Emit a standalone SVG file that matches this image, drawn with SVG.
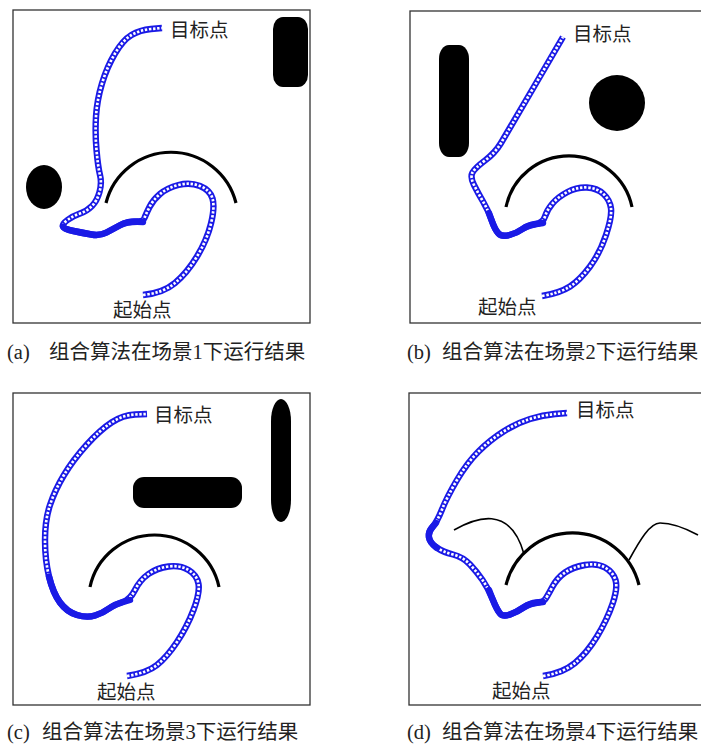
<svg xmlns="http://www.w3.org/2000/svg" width="701" height="745" viewBox="0 0 701 745">
<style>
.frame{fill:#fff;stroke:#333;stroke-width:1.3}
.obs{fill:#000}
.arc{fill:none;stroke:#000;stroke-width:3.2;stroke-linecap:butt}
.thin{fill:none;stroke:#000;stroke-width:1.6}
.pb{fill:none;stroke:#1a1ae6;stroke-width:6.4;stroke-linejoin:round;stroke-linecap:butt}
.pw{fill:none;stroke:#fff;stroke-width:2.7;stroke-dasharray:2.4 1.7}
.ps{fill:none;stroke:#1a1ae6;stroke-width:6.4;stroke-linejoin:round;stroke-linecap:round}
.lbl{font-family:"Noto Sans CJK SC",sans-serif;font-size:19.5px;fill:#222}
.cap{font-family:"Liberation Serif","Noto Sans CJK SC",serif;font-size:20.5px;fill:#222}
</style>
<defs>
<path id="pa" d="M143,295 Q163,293 175,283 Q187,273 197,256.5 Q207,240 211,223.5 Q215,207 212.5,198.5 Q210,190 200,186 Q190,182 178.5,185 Q167,188 160,194 Q153,200 149.5,207 Q146,214 144.5,218 Q143,222 135.5,221.5 Q128,221 120.5,225 Q113,229 106.5,232.5 Q100,236 91.5,234.5 Q83,233 73.5,231 Q64,229 63,226.5 Q62,224 67.5,220 Q73,216 80,213.5 Q87,211 92,206 Q97,201 99.5,192 Q102,183 100,175 Q98,167 96.5,150 Q95,133 96,116.5 Q97,100 102,83.5 Q107,67 115,53.5 Q123,40 131.5,35 Q140,30 151,29 L162,28"/>
<path id="pbp" d="M542,296 Q560,293 570,286.5 Q580,280 590,266.5 Q600,253 606,235 Q612,217 611,208.5 Q610,200 603.5,194 Q597,188 587,187.5 Q577,187 567.5,192 Q558,197 552.5,203.5 Q547,210 545,216.5 Q543,223 535.5,224 Q528,225 522.5,229 Q517,233 509.5,235 Q502,237 498.5,233.5 Q495,230 491.5,220 Q488,210 483,201.5 Q478,193 474,185 Q470,177 472.5,172.5 Q475,168 485,160.5 Q495,153 501,143 Q507,133 535,85 L563,37"/>
<path id="pc" d="M127,676 Q147,673 157,665 Q167,657 177,642 Q187,627 193.5,610 Q200,593 198.5,584 Q197,575 188.5,570 Q180,565 168.5,566.5 Q157,568 148.5,574 Q140,580 135,590 Q130,600 122.5,602 Q115,604 109,608.5 Q103,613 95,615.5 Q87,618 77,615 Q67,612 60,602.5 Q53,593 49,576.5 Q45,560 45,540 Q45,520 50,505 Q55,490 64,475 Q73,460 86.5,445 Q100,430 111.5,422.5 Q123,415 135,414.5 L147,414"/>
<path id="pd" d="M543,676 Q563,673 575,663 Q587,653 597,636.5 Q607,620 612.5,604 Q618,588 615.5,580 Q613,572 605,567.5 Q597,563 585,565 Q573,567 565,572.5 Q557,578 552,587.5 Q547,597 545,599.5 Q543,602 536.5,602.5 Q530,603 523.5,607.5 Q517,612 510,614.5 Q503,617 500,613.5 Q497,610 492.5,599 Q488,588 482.5,580 Q477,572 470,564.5 Q463,557 453,554.5 Q443,552 436.5,547.5 Q430,543 429,537.5 Q428,532 432.5,527 Q437,522 442,509.5 Q447,497 457,480 Q467,463 478.5,451.5 Q490,440 503.5,431.5 Q517,423 530,419 Q543,415 555,414 L567,413"/>
</defs>

<g id="panel-a">
<rect class="frame" x="13" y="10" width="297" height="313"/>
<rect class="obs" x="273" y="17" width="35" height="70" rx="10" ry="12"/>
<ellipse class="obs" cx="44" cy="187" rx="18" ry="22"/>
<path class="arc" d="M106,203 A67,67 0 0 1 236,203"/>
<use href="#pa" class="pb"/>
<use href="#pa" class="pw"/>
<path class="ps" d="M143,222 Q128,221 120.5,225 Q113,229 106.5,232.5 Q100,236 91.5,234.5 Q83,233 73.5,231 Q64,229 63,226.5"/>
<text class="lbl" x="170" y="37">目标点</text>
<text class="lbl" x="113" y="317">起始点</text>
</g>

<g id="panel-b">
<rect class="frame" x="410" y="11" width="310" height="312"/>
<rect class="obs" x="439" y="45" width="30" height="112" rx="10" ry="14"/>
<circle class="obs" cx="617" cy="103" r="28"/>
<path class="arc" d="M506,207 A64.4,64.4 0 0 1 632,207"/>
<use href="#pbp" class="pb"/>
<use href="#pbp" class="pw"/>
<path class="ps" d="M543,223 Q528,225 522.5,229 Q517,233 509.5,235 Q502,237 498.5,233.5 Q495,230 491.5,220 L489,213"/>
<text class="lbl" x="573" y="41">目标点</text>
<text class="lbl" x="478" y="314">起始点</text>
</g>

<g id="panel-c">
<rect class="frame" x="13" y="393" width="297" height="312"/>
<rect class="obs" x="133" y="477" width="109" height="31" rx="11" ry="11"/>
<rect class="obs" x="271" y="399" width="20" height="123" rx="10" ry="22"/>
<path class="arc" d="M90,587 A66,66 0 0 1 219,587"/>
<use href="#pc" class="pb"/>
<use href="#pc" class="pw"/>
<path class="ps" d="M130,600 Q115,604 109,608.5 Q103,613 95,615.5 Q87,618 77,615 Q67,612 60,602.5 Q53,593 49,576.5"/>
<text class="lbl" x="154" y="422">目标点</text>
<text class="lbl" x="97" y="699">起始点</text>
</g>

<g id="panel-d">
<rect class="frame" x="409" y="393" width="311" height="312"/>
<path class="thin" d="M454,530 C475,518 510,504 524,554"/>
<path class="thin" d="M629,560 C640,540 650,523 660,523 C670,523 685,528 698,535"/>
<path class="arc" d="M506,585 A68.5,68.5 0 0 1 639,585"/>
<use href="#pd" class="pb"/>
<use href="#pd" class="pw"/>
<path class="ps" d="M543,602 Q530,603 523.5,607.5 Q517,612 510,614.5 Q503,617 500,613.5 Q497,610 492.5,599 L489,590"/>
<path class="ps" d="M436.5,547.5 Q430,543 429,537.5 Q428,532 432.5,527 L436,523"/>
<text class="lbl" x="576" y="417">目标点</text>
<text class="lbl" x="492" y="698">起始点</text>
</g>

<g id="captions">
<text class="cap" x="7" y="359">(a)<tspan x="49">组合算法在场景1下运行结果</tspan></text>
<text class="cap" x="407" y="359">(b)<tspan x="442">组合算法在场景2下运行结果</tspan></text>
<text class="cap" x="7" y="739">(c)<tspan x="42">组合算法在场景3下运行结果</tspan></text>
<text class="cap" x="407" y="739">(d)<tspan x="442">组合算法在场景4下运行结果</tspan></text>
</g>
</svg>
